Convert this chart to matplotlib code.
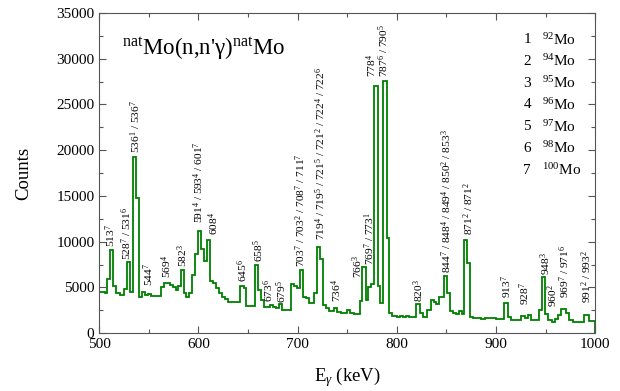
import matplotlib
matplotlib.use("Agg")
import matplotlib.pyplot as plt
from matplotlib.ticker import MultipleLocator

plt.rcParams["font.family"] = ["Liberation Serif", "DejaVu Serif"]
plt.rcParams["mathtext.fontset"] = "custom"
plt.rcParams["mathtext.rm"] = "Liberation Serif"
plt.rcParams["mathtext.it"] = "Liberation Serif:italic"
plt.rcParams["mathtext.bf"] = "Liberation Serif:bold"

# ── spectrum (bin start energy in keV, counts); last edge = 1000 keV
e_start = [500, 503, 506, 508, 511, 514, 517, 521, 525, 528, 531, 534, 537, 540,
           543, 546, 549, 552, 562, 565, 571, 574, 577, 579, 582, 585, 588, 591,
           594, 597, 600, 603, 606, 609, 612, 615, 618, 621, 624, 627, 630, 636,
           639, 642, 646, 648, 657, 660, 663, 666, 672, 675, 678, 681, 684, 693,
           696, 699, 702, 705, 708, 711, 717, 720, 723, 726, 729, 732, 737, 740,
           744, 750, 753, 757, 763, 765, 769, 771, 774, 777, 781, 783, 786, 790,
           792, 795, 800, 803, 806, 809, 812, 819, 823, 826, 830, 834, 837, 840,
           843, 848, 851, 854, 857, 860, 863, 866, 868, 871, 874, 877, 885, 889,
           893, 900, 908, 912, 915, 925, 929, 932, 935, 943, 946, 949, 952, 956,
           959, 962, 966, 971, 974, 978, 989, 994]
counts = [4500, 4450, 4380, 5900, 9050, 5100, 4400, 4200, 4800, 7750, 4500, 19200, 14800, 4000,
          4550, 4200, 4300, 4100, 5050, 5500, 5300, 5050, 4750, 5200, 6900, 4400, 4000, 4400,
          6400, 8700, 11200, 9150, 7850, 10200, 5750, 5500, 4950, 4400, 4000, 3700, 3450, 3350,
          3450, 5100, 4900, 3000, 7400, 4750, 3650, 2900, 3100, 2850, 2750, 3200, 2500, 5400,
          5200, 4950, 6900, 4000, 3850, 3300, 4350, 9450, 8100, 3050, 2800, 2400, 2700, 2300,
          2200, 2550, 2250, 2100, 3500, 7200, 3600, 5000, 5400, 27000, 5100, 3300, 27600, 10400,
          2200, 1900, 1800, 1900, 1750, 1900, 1750, 3200, 2200, 1750, 2480, 3650, 3450, 3200,
          3950, 6200, 4400, 2400, 2200, 2050, 2400, 2100, 10200, 7650, 1800, 1650, 1550, 1700,
          1600, 1550, 3300, 1750, 1400, 1900, 1600, 1950, 1450, 2550, 6150, 2100, 1450, 1170,
          1550, 2000, 2650, 2250, 1450, 1170, 2000, 1300]
edges = e_start + [1000]

# ── peak labels (energy^isotope)
peak_labels = [
    "513$^{7}$", "528$^{7}$ / 531$^{6}$", "536$^{1}$ / 536$^{7}$", "544$^{7}$",
    "569$^{4}$", "582$^{3}$", "591$^{4}$ / 593$^{4}$ / 601$^{7}$", "608$^{4}$",
    "645$^{6}$", "658$^{5}$", "673$^{6}$", "679$^{5}$",
    "703$^{7}$ / 703$^{2}$ / 708$^{7}$ / 711$^{7}$",
    "719$^{4}$ / 719$^{5}$ / 721$^{5}$ / 721$^{2}$ / 722$^{4}$ / 722$^{6}$",
    "736$^{4}$", "766$^{3}$", "769$^{7}$ / 773$^{1}$", "778$^{4}$",
    "787$^{6}$ / 790$^{5}$", "820$^{3}$",
    "844$^{7}$ / 848$^{4}$ / 849$^{4}$ / 850$^{2}$ / 853$^{3}$",
    "871$^{2}$ / 871$^{2}$", "913$^{7}$", "928$^{7}$", "948$^{3}$", "960$^{2}$",
    "969$^{7}$ / 971$^{6}$", "991$^{2}$ / 993$^{2}$",
]
label_x = [511.8, 527.9, 536.3, 550.4, 568.5, 584.4, 599.8, 615.9, 644.9, 660.3,
           670.8, 683.6, 703.3, 723.5, 739.6, 760.1, 772.2, 774.6, 786.4, 821.6,
           850.5, 872.0, 911.0, 929.4, 949.6, 957.2, 969.0, 991.6]
label_y = [9440, 7990, 19700, 5140, 6020, 7220, 12030, 10720, 5610, 7770,
           3420, 3310, 7250, 10170, 3420, 6020, 7440, 28040, 28040, 3420,
           6560, 10720, 3830, 3060, 6350, 2880, 3830, 3280]

iso_index = [1, 2, 3, 4, 5, 6, 7]
iso_mass = [92, 94, 95, 96, 97, 98, 100]

fig = plt.figure(figsize=(6.2, 3.91), dpi=100)
ax = fig.add_axes([0.160, 0.148, 0.800, 0.819])

ax.stairs(counts, edges, color="#008000", linewidth=1.3)

for txt, x, y in zip(peak_labels, label_x, label_y):
    ax.text(x, y, txt, rotation=90, ha="center", va="bottom", fontsize=8.2)

# isotope key
for k, (i, m) in enumerate(zip(iso_index, iso_mass)):
    yk = 0.916 - k * 0.0678
    ax.text(0.863, yk, str(i), transform=ax.transAxes, ha="center", va="center", fontsize=11)
    ax.text(0.893, yk, "$^{%d}$Mo" % m, transform=ax.transAxes, ha="left", va="center", fontsize=11)

ax.text(0.046, 0.869, r"$^{\mathrm{nat}}$Mo(n,n'γ)$^{\mathrm{nat}}$Mo",
        transform=ax.transAxes, ha="left", va="baseline", fontsize=16.5)

ax.set_xlim(500, 1000)
ax.set_ylim(0, 35000)
ax.xaxis.set_major_locator(MultipleLocator(100))
ax.xaxis.set_minor_locator(MultipleLocator(50))
ax.yaxis.set_major_locator(MultipleLocator(5000))
ax.yaxis.set_minor_locator(MultipleLocator(2500))
ax.tick_params(which="both", direction="in", top=True, right=True, labelsize=11,
               color="#555555", width=0.8)
ax.tick_params(which="major", length=5)
ax.tick_params(which="minor", length=3)
for sp in ax.spines.values():
    sp.set_color("#555555")
    sp.set_linewidth(0.8)

ax.set_xlabel(r"E$_\gamma$ (keV)", fontsize=13.5, labelpad=10)
ax.set_ylabel("Counts", fontsize=13.5, labelpad=17)

fig.savefig("out.png", dpi=100)
